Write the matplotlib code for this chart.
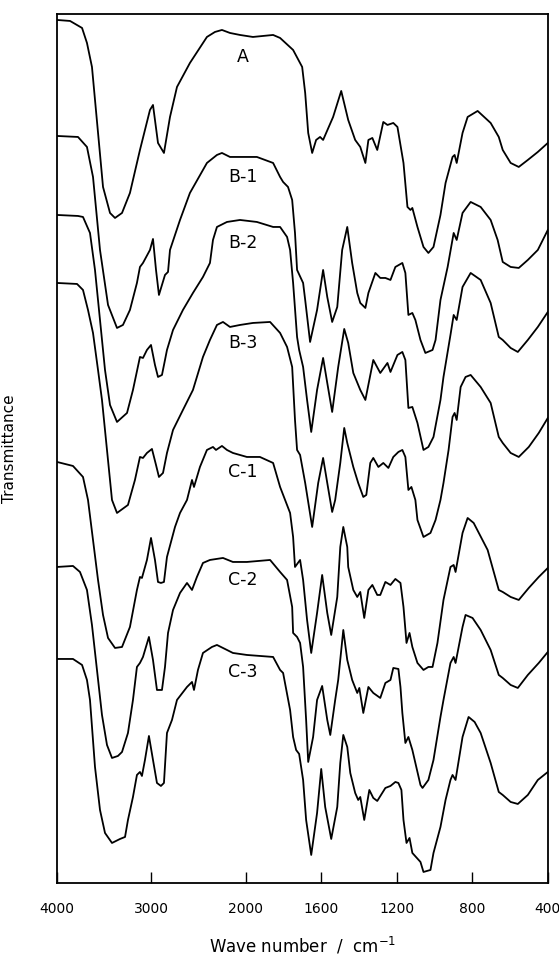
import numpy as np
import matplotlib
matplotlib.use("Agg")
import matplotlib.pyplot as plt

# IR spectra, stacked (transmittance in arbitrary units incl. offset)
wn_A = [4000, 3862, 3735, 3683, 3630, 3513, 3439, 3386, 3312, 3228, 3122, 3016, 2984, 2931, 2868,
        2804, 2730, 2593, 2413, 2328, 2254, 2169, 2063, 1963, 1856, 1819, 1750, 1702, 1686, 1670,
        1649, 1628, 1607, 1591, 1538, 1495, 1458, 1421, 1394, 1367, 1351, 1330, 1304, 1272, 1250,
        1219, 1197, 1165, 1144, 1128, 1118, 1091, 1059, 1033, 1006, 969, 942, 905, 894, 883,
        852, 825, 772, 703, 660, 639, 597, 554, 506, 453, 400]
t_A = [863, 862, 855, 840, 816, 696, 670, 665, 670, 690, 733, 773, 778, 740, 730,
       766, 796, 820, 846, 851, 853, 850, 848, 846, 848, 845, 833, 816, 790, 750,
       730, 743, 746, 743, 766, 792, 763, 743, 736, 720, 743, 745, 733, 761, 758,
       760, 756, 720, 676, 673, 675, 656, 636, 630, 636, 668, 700, 726, 728, 720,
       750, 766, 772, 760, 746, 733, 720, 716, 723, 731, 740]

wn_B1 = [4000, 3778, 3683, 3619, 3545, 3460, 3365, 3302, 3228, 3154, 3122, 3090, 3016, 2984, 2952,
         2921, 2889, 2857, 2825, 2804, 2698, 2593, 2413, 2307, 2254, 2169, 2063, 1942, 1856, 1819,
         1803, 1777, 1755, 1740, 1729, 1697, 1686, 1660, 1623, 1591, 1569, 1543, 1516, 1490, 1463,
         1437, 1410, 1394, 1367, 1351, 1314, 1288, 1261, 1234, 1208, 1171, 1155, 1139, 1118, 1102,
         1075, 1049, 1011, 995, 969, 931, 899, 883, 852, 809, 756, 703, 666, 639, 597,
         554, 506, 453, 400]
t_B1 = [747, 746, 736, 706, 633, 578, 555, 558, 573, 600, 616, 620, 633, 644, 613,
        588, 598, 608, 611, 633, 663, 690, 720, 728, 730, 726, 726, 726, 720, 706,
        701, 696, 683, 650, 613, 600, 583, 541, 573, 613, 586, 561, 576, 633, 656,
        620, 590, 580, 575, 590, 610, 605, 605, 603, 616, 620, 610, 568, 570, 563,
        543, 530, 533, 543, 583, 616, 650, 643, 670, 681, 676, 663, 643, 621, 616,
        615, 623, 633, 653]

wn_B2 = [4000, 3778, 3725, 3651, 3598, 3545, 3492, 3439, 3365, 3259, 3196, 3122, 3090, 3048, 3005,
         2963, 2931, 2889, 2857, 2836, 2772, 2667, 2561, 2455, 2381, 2349, 2307, 2201, 2063, 1942,
         1856, 1819, 1782, 1766, 1750, 1729, 1718, 1697, 1676, 1654, 1623, 1591, 1569, 1543, 1511,
         1479, 1458, 1431, 1394, 1367, 1325, 1288, 1250, 1234, 1197, 1171, 1155, 1139, 1118, 1091,
         1059, 1033, 1006, 969, 953, 916, 899, 883, 852, 809, 756, 703, 660, 639, 597,
         559, 506, 453, 400]
t_B2 = [668, 667, 666, 650, 613, 563, 513, 478, 461, 470, 493, 526, 525, 533, 538,
        518, 506, 508, 523, 533, 553, 573, 590, 606, 620, 643, 656, 661, 663, 661,
        656, 656, 646, 633, 600, 546, 533, 516, 483, 451, 493, 525, 500, 471, 516,
        554, 540, 510, 493, 483, 523, 510, 520, 511, 528, 531, 523, 475, 476, 460,
        433, 436, 446, 483, 506, 548, 568, 563, 596, 610, 603, 580, 546, 543, 535,
        531, 543, 556, 571]

wn_B3 = [4000, 3788, 3725, 3672, 3619, 3566, 3524, 3471, 3418, 3365, 3249, 3175, 3122, 3090, 3048,
         2995, 2952, 2921, 2878, 2836, 2772, 2667, 2561, 2455, 2381, 2307, 2243, 2169, 2063, 1963,
         1872, 1819, 1782, 1755, 1740, 1729, 1713, 1686, 1649, 1617, 1591, 1569, 1543, 1527, 1500,
         1479, 1463, 1431, 1405, 1378, 1362, 1341, 1325, 1298, 1272, 1245, 1219, 1192, 1171, 1155,
         1139, 1123, 1102, 1091, 1059, 1022, 995, 969, 953, 926, 905, 894, 883, 862, 836,
         809, 756, 703, 660, 639, 597, 554, 501, 448, 400]
t_B3 = [600, 599, 593, 573, 550, 513, 483, 433, 383, 370, 378, 403, 426, 425, 430,
        434, 418, 406, 410, 430, 453, 473, 493, 526, 543, 558, 561, 556, 558, 560,
        561, 550, 536, 516, 463, 433, 428, 400, 356, 400, 425, 400, 371, 383, 420,
        455, 440, 416, 400, 386, 388, 420, 425, 416, 420, 415, 426, 431, 433, 426,
        393, 396, 383, 363, 346, 350, 363, 383, 400, 433, 466, 470, 463, 496, 506,
        508, 496, 480, 446, 440, 430, 426, 436, 450, 465]

wn_C1 = [4000, 3831, 3725, 3672, 3619, 3566, 3513, 3460, 3386, 3312, 3228, 3154, 3122, 3101, 3048,
         3005, 2963, 2931, 2900, 2868, 2836, 2751, 2698, 2624, 2571, 2550, 2487, 2413, 2349, 2317,
         2254, 2201, 2138, 1995, 1926, 1856, 1819, 1766, 1750, 1740, 1713, 1697, 1676, 1654, 1623,
         1596, 1569, 1548, 1516, 1500, 1484, 1463, 1458, 1431, 1410, 1394, 1373, 1351, 1330, 1304,
         1288, 1261, 1234, 1208, 1181, 1165, 1149, 1133, 1118, 1091, 1059, 1033, 1011, 985, 953,
         916, 899, 889, 852, 825, 793, 719, 660, 639, 597, 554, 501, 448, 400]
t_C1 = [421, 417, 406, 383, 343, 303, 268, 245, 235, 236, 256, 293, 306, 305, 323,
        345, 323, 301, 300, 301, 326, 356, 370, 383, 403, 396, 416, 433, 436, 433,
        437, 433, 430, 426, 426, 420, 396, 370, 346, 316, 323, 303, 263, 230, 270,
        308, 270, 248, 286, 336, 356, 336, 316, 293, 286, 291, 265, 293, 298, 288,
        288, 301, 298, 304, 300, 276, 240, 250, 236, 220, 213, 216, 216, 240, 283,
        316, 318, 311, 350, 365, 360, 333, 293, 291, 286, 283, 295, 306, 315]

wn_C2 = [4000, 3831, 3757, 3683, 3630, 3577, 3524, 3471, 3418, 3355, 3312, 3249, 3196, 3154, 3122,
         3090, 3027, 2984, 2942, 2889, 2857, 2825, 2772, 2698, 2624, 2571, 2519, 2455, 2381, 2243,
         2138, 1995, 1872, 1819, 1782, 1755, 1750, 1729, 1713, 1697, 1681, 1670, 1644, 1623, 1596,
         1569, 1553, 1527, 1511, 1484, 1463, 1437, 1410, 1399, 1378, 1351, 1325, 1288, 1261, 1234,
         1219, 1192, 1181, 1171, 1155, 1139, 1118, 1075, 1064, 1033, 1006, 969, 953, 916, 899,
         889, 852, 836, 799, 756, 703, 660, 639, 597, 559, 506, 448, 400]
t_C2 = [316, 317, 311, 293, 258, 213, 168, 138, 125, 127, 131, 150, 183, 216, 220,
        226, 246, 223, 193, 193, 216, 250, 273, 290, 300, 293, 306, 320, 323, 325,
        321, 321, 323, 311, 303, 276, 250, 246, 240, 216, 163, 121, 146, 183, 197,
        163, 148, 183, 203, 253, 223, 203, 190, 195, 170, 196, 190, 185, 200, 203,
        215, 214, 196, 170, 140, 146, 133, 98, 95, 103, 123, 166, 183, 220, 226,
        220, 256, 268, 265, 253, 233, 208, 205, 198, 195, 208, 220, 231]

wn_C3 = [4000, 3831, 3735, 3683, 3651, 3598, 3545, 3492, 3418, 3333, 3280, 3249, 3196, 3154, 3122,
         3101, 3069, 3027, 2984, 2942, 2900, 2868, 2836, 2783, 2730, 2624, 2571, 2550, 2508, 2455,
         2360, 2307, 2201, 2138, 1995, 1856, 1819, 1803, 1766, 1750, 1734, 1718, 1697, 1681, 1654,
         1623, 1601, 1580, 1548, 1516, 1500, 1484, 1463, 1447, 1421, 1405, 1394, 1373, 1346, 1325,
         1304, 1261, 1234, 1208, 1192, 1176, 1165, 1149, 1133, 1118, 1075, 1059, 1022, 1006, 969,
         942, 916, 905, 889, 852, 820, 788, 756, 703, 660, 639, 597, 559, 506, 453, 400]
t_C3 = [224, 224, 218, 203, 183, 116, 73, 50, 40, 44, 46, 63, 86, 108, 111,
        107, 123, 147, 123, 100, 97, 100, 150, 163, 183, 196, 201, 193, 213, 230,
        236, 238, 233, 230, 228, 226, 213, 210, 173, 146, 133, 129, 103, 63, 28,
        70, 114, 76, 44, 76, 120, 148, 136, 110, 90, 83, 86, 63, 93, 85,
        82, 95, 97, 101, 100, 93, 63, 40, 45, 30, 21, 11, 13, 30, 56,
        83, 103, 108, 103, 146, 166, 161, 150, 120, 91, 88, 81, 79, 88, 103, 111]

names = ["A", "B-1", "B-2", "B-3", "C-1", "C-2", "C-3"]
label_t = [826, 706, 640, 540, 411, 303, 211]
label_wn = 2030

spectra = [(wn_A, t_A), (wn_B1, t_B1), (wn_B2, t_B2), (wn_B3, t_B3),
           (wn_C1, t_C1), (wn_C2, t_C2), (wn_C3, t_C3)]

xticks = [4000, 3000, 2000, 1600, 1200, 800, 400]


# axis is compressed above 2000 cm-1 (1000 per step) and expanded below (400 per step)
def fwd(w):
    w = np.asarray(w, dtype=float)
    return np.where(w <= 2000, (w - 400) * 302 / 1600, 302 + (w - 2000) * 189 / 2000)


def inv(u):
    u = np.asarray(u, dtype=float)
    return np.where(u <= 302, 400 + u * 1600 / 302, 2000 + (u - 302) * 2000 / 189)


fig = plt.figure(figsize=(5.59, 9.56), dpi=100)
ax = fig.add_axes([0.102, 0.0764, 0.878, 0.909])

for wn, t in spectra:
    ax.plot(wn, t, color="black", linewidth=1.3)

for name, lt in zip(names, label_t):
    ax.text(label_wn, lt, name, ha="center", va="center", fontsize=12.5)

ax.set_xscale("function", functions=(fwd, inv))
ax.set_xlim(4000, 400)
ax.set_ylim(0, 869)

ax.set_xticks(xticks)
ax.set_xticklabels([str(v) for v in xticks])
ax.xaxis.set_minor_locator(matplotlib.ticker.NullLocator())
ax.tick_params(axis="x", direction="in", length=8, width=1, pad=14, labelsize=10)
ax.set_yticks([])

for s in ax.spines.values():
    s.set_linewidth(1.3)

ax.set_xlabel("Wave number  /  cm$^{-1}$", fontsize=12, labelpad=14)
ax.set_ylabel("Transmittance", fontsize=11)
ax.yaxis.set_label_coords(-0.082, 0.5)

fig.savefig("out.png", dpi=100)
